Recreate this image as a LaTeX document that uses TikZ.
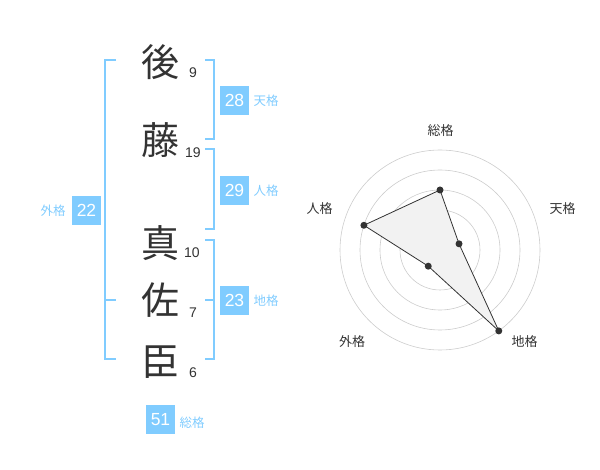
\documentclass[tikz,border=0pt]{standalone}
\usepackage{fontspec}
\setmainfont{Liberation Sans}
\newfontfamily\cjk{Noto Sans CJK JP}
\definecolor{kaku}{HTML}{80CCFF}
\definecolor{moji}{HTML}{333333}
\tikzset{
  kanji/.style={font=\cjk\fontsize{38}{38}\selectfont, text=moji, inner sep=0pt},
  kakusu/.style={font=\fontsize{14}{14}\selectfont, text=moji, inner sep=0pt},
  kakubox/.style={fill=kaku, text=white, minimum size=29pt, inner sep=0pt, font=\fontsize{17.5}{17.5}\selectfont},
  kakuname/.style={font=\cjk\fontsize{12.5}{12.5}\selectfont, text=kaku, inner sep=0pt},
  kakko/.style={draw=kaku, line width=2pt},
  axisname/.style={font=\cjk\fontsize{13}{13}\selectfont, text=moji, inner sep=0pt},
  ring/.style={draw=black!20, line width=0.6pt}
}

\begin{document}
\begin{tikzpicture}[x=1pt, y=-1pt]
    \useasboundingbox (0,0) rectangle (600,470);

    % 名前
    \node[kanji] (k1) at (160,62) {後};
    \node[kanji] (k2) at (160,140) {藤};
    \node[kanji] (k3) at (160,243) {真};
    \node[kanji] (k4) at (160,300) {佐};
    \node[kanji] (k5) at (160,362) {臣};

    % 画数
    \node[kakusu] (s1) at (193,73) {9};
    \node[kakusu] (s2) at (193,153) {19};
    \node[kakusu] (s3) at (192,253) {10};
    \node[kakusu] (s4) at (193,313) {7};
    \node[kakusu] (s5) at (193,373) {6};

    % 括弧
    \draw[kakko] (116,60) -- (105,60) -- (105,359) -- (116,359);
    \draw[kakko] (105,300) -- (116,300);
    \draw[kakko] (205,60) -- (214,60) -- (214,139) -- (205,139);
    \draw[kakko] (205,149) -- (214,149) -- (214,229) -- (205,229);
    \draw[kakko] (205,240) -- (214,240) -- (214,359) -- (205,359);
    \draw[kakko] (205,300) -- (214,300);

    % 五格
    \node[kakubox] (gai) at (86.5,210.5) {22};
    \node[kakuname] (gainame) at (53,211) {外格};
    \node[kakubox] (ten) at (234.5,100.5) {28};
    \node[kakuname] (tenname) at (266,101) {天格};
    \node[kakubox] (jin) at (234.5,190.5) {29};
    \node[kakuname] (jinname) at (266,191) {人格};
    \node[kakubox] (chi) at (234.5,300.5) {23};
    \node[kakuname] (chiname) at (266,301) {地格};
    \node[kakubox] (sou) at (160.5,419.5) {51};
    \node[kakuname] (souname) at (192,423) {総格};

    % 雷达图
    \begin{scope}[shift={(440,250)}, y=1pt]
        \foreach \r in {20,40,...,100}
            \draw[ring] (0,0) circle (\r);
        \fill[black!20] (0,0) circle (4);
        \foreach \a/\r [count=\i] in {90/60,18/20,-54/100,-126/20,162/80}
            \coordinate (p\i) at (\a:\r);
        \filldraw[fill=black!5, draw=moji, line width=0.8pt]
            (p1) -- (p2) -- (p3) -- (p4) -- (p5) -- cycle;
        \foreach \i in {1,...,5}
            \fill[moji] (p\i) circle (3.5);
        \node[axisname] (a1) at (0.5,119) {総格};
        \node[axisname] (a2) at (122.5,41) {天格};
        \node[axisname] (a3) at (84.5,-92) {地格};
        \node[axisname] (a4) at (-88,-92) {外格};
        \node[axisname] (a5) at (-120.5,41) {人格};
    \end{scope}
\end{tikzpicture}
\end{document}
